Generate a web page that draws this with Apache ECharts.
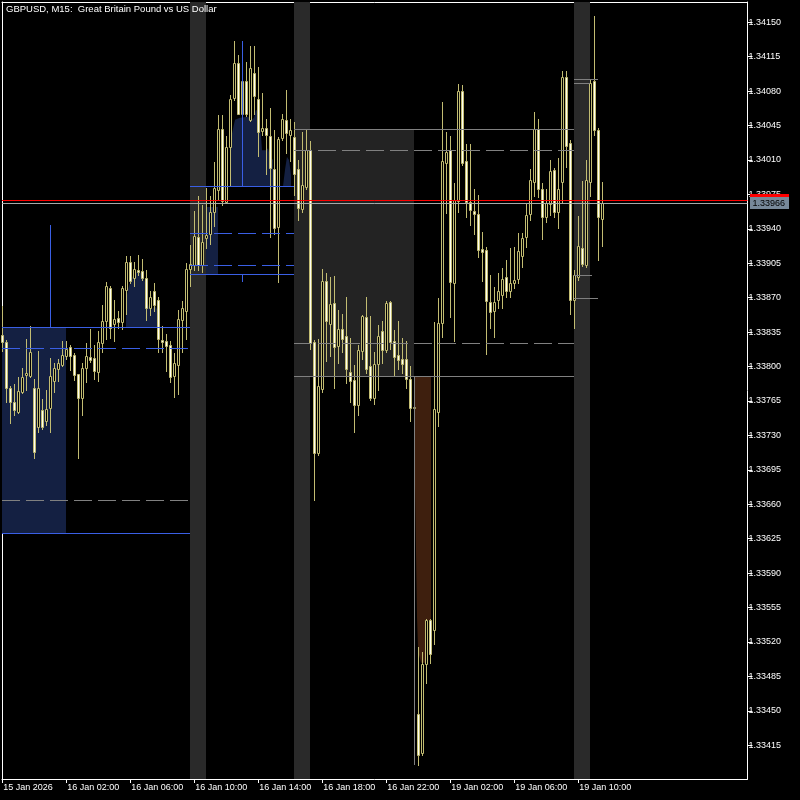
<!DOCTYPE html>
<html>
<head>
<meta charset="utf-8">
<script src="https://cdn.jsdelivr.net/npm/echarts@6/dist/echarts.min.js"></script>
<style>
html,body{margin:0;padding:0;background:#000;}
#chart{width:800px;height:800px;}
</style>
</head>
<body>
<div id="chart"></div>
<script>
// ---------------- data ----------------
const chartTitle = 'GBPUSD, M15:  Great Britain Pound vs US Dollar';
const timeLabelBars = [0, 16, 32, 48, 64, 80, 96, 112, 128, 144];
const timeLabels = ['15 Jan 2026', '16 Jan 02:00', '16 Jan 06:00', '16 Jan 10:00', '16 Jan 14:00',
  '16 Jan 18:00', '16 Jan 22:00', '19 Jan 02:00', '19 Jan 06:00', '19 Jan 10:00'];
const priceTicks = [1.33415, 1.33450, 1.33485, 1.33520, 1.33555, 1.33590, 1.33625, 1.33660, 1.33695,
  1.33730, 1.33765, 1.33800, 1.33835, 1.33870, 1.33905, 1.33940, 1.33975, 1.34010, 1.34045,
  1.34080, 1.34115, 1.34150];

const opens = [1.33832,1.33824,1.33778,1.33763,1.33753,1.33774,1.33791,1.33790,1.33778,1.33738,
1.33755,1.33744,1.33757,1.33785,1.33797,1.33801,1.33810,1.33819,1.33811,1.33792,
1.33768,1.33798,1.33809,1.33808,1.33794,1.33823,1.33846,1.33879,1.33843,1.33849,
1.33845,1.33877,1.33906,1.33890,1.33898,1.33897,1.33890,1.33859,1.33876,1.33867,
1.33827,1.33825,1.33821,1.33790,1.33801,1.33847,1.33856,1.33899,1.33903,1.33931,
1.33903,1.33930,1.33934,1.33957,1.33979,1.34041,1.33967,1.34023,1.34073,1.34108,
1.34056,1.34090,1.34050,1.34098,1.34072,1.34039,1.34042,1.34034,1.34000,1.33941,
1.34032,1.34050,1.34035,1.34033,1.34000,1.33960,1.33982,1.34020,1.33824,1.33712,
1.33777,1.33887,1.33843,1.33864,1.33820,1.33838,1.33831,1.33794,1.33786,1.33760,
1.33815,1.33850,1.33800,1.33768,1.33802,1.33836,1.33816,1.33865,1.33825,1.33811,
1.33807,1.33807,1.33787,1.33757,1.33446,1.33407,1.33497,1.33542,1.33532,1.33753,
1.33844,1.34006,1.34020,1.33884,1.33968,1.34080,1.34008,1.33967,1.33958,1.33955,
1.33919,1.33918,1.33865,1.33856,1.33867,1.33872,1.33891,1.33876,1.33884,1.33889,
1.33912,1.33931,1.33955,1.33987,1.34041,1.33980,1.33952,1.33965,1.33999,1.33957,
1.33987,1.34094,1.34027,1.33867,1.33891,1.33920,1.33903,1.33987,1.34090,1.34040,
1.33950];
const highs = [1.33861,1.33827,1.33780,1.33782,1.33789,1.33798,1.33828,1.33841,1.33787,1.33815,
1.33767,1.33776,1.33808,1.33803,1.33807,1.33825,1.33826,1.33821,1.33813,1.33792,
1.33803,1.33823,1.33838,1.33821,1.33836,1.33862,1.33885,1.33881,1.33867,1.33856,
1.33881,1.33912,1.33912,1.33906,1.33913,1.33909,1.33898,1.33876,1.33884,1.33870,
1.33841,1.33833,1.33826,1.33813,1.33857,1.33866,1.33905,1.33923,1.33958,1.33973,
1.33964,1.33981,1.33973,1.34007,1.34055,1.34055,1.34034,1.34076,1.34130,1.34116,
1.34109,1.34109,1.34125,1.34125,1.34104,1.34078,1.34051,1.34062,1.34040,1.34033,
1.34056,1.34081,1.34051,1.34048,1.34010,1.34038,1.34041,1.34029,1.33827,1.33828,
1.33899,1.33895,1.33891,1.33892,1.33857,1.33853,1.33870,1.33829,1.33801,1.33821,
1.33852,1.33870,1.33851,1.33814,1.33842,1.33846,1.33866,1.33866,1.33837,1.33846,
1.33829,1.33826,1.33800,1.33762,1.33514,1.33509,1.33543,1.33543,1.33845,1.33869,
1.34068,1.34038,1.34034,1.33986,1.34087,1.34086,1.34026,1.34026,1.33980,1.33974,
1.33936,1.33921,1.33893,1.33880,1.33895,1.33900,1.33908,1.33920,1.33921,1.33935,
1.33935,1.33965,1.34000,1.34058,1.34051,1.33986,1.33980,1.34009,1.34001,1.34012,
1.34100,1.34100,1.34030,1.33898,1.33953,1.33988,1.34010,1.34091,1.34156,1.34042,
1.33987];
const lows = [1.33815,1.33763,1.33742,1.33750,1.33752,1.33773,1.33776,1.33789,1.33707,1.33733,
1.33736,1.33740,1.33733,1.33774,1.33785,1.33800,1.33807,1.33796,1.33786,1.33707,
1.33750,1.33784,1.33804,1.33787,1.33785,1.33814,1.33828,1.33829,1.33825,1.33839,
1.33838,1.33853,1.33884,1.33881,1.33893,1.33888,1.33847,1.33852,1.33856,1.33814,
1.33814,1.33795,1.33784,1.33769,1.33772,1.33814,1.33828,1.33881,1.33898,1.33898,
1.33896,1.33920,1.33924,1.33942,1.33969,1.33964,1.33966,1.33983,1.34071,1.34056,
1.34049,1.34054,1.34049,1.34056,1.34014,1.34035,1.33995,1.33931,1.33934,1.33885,
1.34030,1.34017,1.34008,1.33974,1.33949,1.33957,1.33980,1.33817,1.33664,1.33710,
1.33774,1.33805,1.33810,1.33778,1.33803,1.33814,1.33783,1.33763,1.33733,1.33750,
1.33807,1.33793,1.33766,1.33761,1.33776,1.33803,1.33814,1.33817,1.33791,1.33797,
1.33793,1.33778,1.33744,1.33754,1.33394,1.33405,1.33478,1.33498,1.33517,1.33739,
1.33830,1.33956,1.33850,1.33825,1.33957,1.34004,1.33952,1.33943,1.33934,1.33911,
1.33886,1.33812,1.33839,1.33830,1.33859,1.33859,1.33870,1.33870,1.33879,1.33884,
1.33901,1.33921,1.33949,1.33973,1.33972,1.33929,1.33946,1.33954,1.33952,1.33940,
1.33967,1.34002,1.33853,1.33839,1.33888,1.33902,1.33901,1.33973,1.34035,1.33908,
1.33922];
const closes = [1.33824,1.33778,1.33763,1.33755,1.33775,1.33789,1.33793,1.33814,1.33713,1.33778,
1.33738,1.33756,1.33790,1.33798,1.33803,1.33811,1.33817,1.33810,1.33791,1.33768,
1.33798,1.33810,1.33806,1.33795,1.33824,1.33846,1.33881,1.33839,1.33848,1.33845,
1.33879,1.33906,1.33887,1.33899,1.33896,1.33890,1.33859,1.33870,1.33862,1.33828,
1.33824,1.33820,1.33789,1.33803,1.33848,1.33859,1.33899,1.33904,1.33932,1.33903,
1.33926,1.33933,1.33957,1.33981,1.34041,1.33968,1.34023,1.34072,1.34108,1.34056,
1.34090,1.34056,1.34103,1.34075,1.34038,1.34042,1.34035,1.34001,1.33940,1.34031,
1.34051,1.34037,1.34040,1.33995,1.33961,1.33984,1.34020,1.33823,1.33712,1.33780,
1.33887,1.33846,1.33863,1.33819,1.33838,1.33828,1.33797,1.33785,1.33760,1.33816,
1.33851,1.33797,1.33768,1.33802,1.33831,1.33816,1.33864,1.33824,1.33809,1.33806,
1.33802,1.33787,1.33757,1.33758,1.33405,1.33497,1.33542,1.33507,1.33756,1.33844,
1.34008,1.34018,1.33885,1.33969,1.34080,1.34006,1.33967,1.33959,1.33955,1.33918,
1.33916,1.33866,1.33855,1.33865,1.33876,1.33889,1.33876,1.33884,1.33888,1.33917,
1.33930,1.33954,1.33989,1.34041,1.33980,1.33952,1.33966,1.33998,1.33957,1.33980,
1.34094,1.34024,1.33867,1.33893,1.33922,1.33904,1.33989,1.34088,1.34040,1.33952,
1.33966];

const bidPrice = 1.33966;
const askPrice = 1.33969;

// session bands: [fromBar, toBar]
const sessionBands = [[47, 51], [73, 77], [143, 147]];
// zone boxes: [fromBar, toBar, lowPrice, highPrice, kind]
const zoneBoxes = [[-0.05, 16, 1.33630, 1.33840, 'navy'], [51, 54, 1.33893, 1.33962, 'navy'],
  [73, 103, 1.33790, 1.34041, 'gray']];
// level lines: [fromBar, toBar, price, kind, dashed]
const levelLines = [
  [-0.05, 47, 1.33840, 'blue', 0], [-0.05, 47, 1.33818, 'blue', 1], [-0.05, 47, 1.33664, 'gray', 1],
  [-0.05, 47, 1.33630, 'blue', 0],
  [47, 73, 1.33983, 'blue', 0], [47, 73, 1.33935, 'blue', 1], [47, 73, 1.33903, 'blue', 1],
  [47, 73, 1.33894, 'blue', 0],
  [73, 143, 1.34041, 'gray', 0], [73, 143, 1.34020, 'gray', 1], [73, 143, 1.33823, 'gray', 1],
  [73, 143, 1.33790, 'gray', 0],
  [143, 149, 1.34092, 'gray', 0], [143, 147, 1.34088, 'gray', 0], [143, 147.5, 1.33893, 'gray', 0],
  [143, 149, 1.33869, 'gray', 0]
];
// vertical lines: [bar, topPrice, bottomPrice, kind]
const verticalLines = [[12, 1.33943, 1.33840, 'blue'], [60, 1.34130, 1.33983, 'blue'],
  [60, 1.33893, 1.33886, 'blue'], [103, 1.33790, 1.33395, 'gray']];
// filled shapes as [bar, price] outlines
const navyHills = [
  [[30.95,1.33840],[30.95,1.33868],[31.45,1.33878],[31.95,1.33886],[32.7,1.33892],[33.45,1.33896],
   [34.45,1.33896],[35.2,1.33892],[35.7,1.33886],[36.07,1.33873],[36.2,1.33868],[36.7,1.33860],
   [37.45,1.33858],[38.2,1.33862],[38.7,1.33858],[38.7,1.33840]],
  [[56.95,1.33983],[57.2,1.34030],[57.45,1.34037],[58.2,1.34051],[59.45,1.34053],[61.45,1.34054],
   [62.45,1.34051],[62.95,1.34053],[63.45,1.34061],[63.95,1.34059],[64.2,1.34051],[64.7,1.34035],
   [64.95,1.34020],[65.95,1.34020],[66.45,1.34022],[66.95,1.34014],[67.7,1.34010],[67.7,1.33983]],
  [[70.2,1.33983],[70.7,1.34000],[71.2,1.34013],[71.7,1.34010],[72.2,1.33995],[72.2,1.33983]]
];
const gapFill = [[103.2,1.33790],[107.2,1.33790],[107.2,1.33542],[105.7,1.33542],[105.7,1.33499],
  [104.7,1.33499],[104.2,1.33507],[103.95,1.33514],[103.7,1.33546],[103.45,1.33612],[103.2,1.33680]];

// ---------------- style ----------------
const COL = {
  axis: '#FFFFFF', wick: '#C2BC72', bullFill: '#000000', bearFill: '#FFFFF4',
  band: '#2A2A2A', navy: '#142042', gray: '#232323', brown: '#3E1F0E',
  lineBlue: '#3A5FE5', lineGray: '#808080', bid: '#A8A8A8', ask: '#FF0000', tag: '#778899'
};
const FONT = 'Liberation Sans, Arial, sans-serif';
const X_MIN = -0.05, X_MAX = 186.325;
const Y_MIN = 1.33380738, Y_MAX = 1.34170637;

const chart = echarts.init(document.getElementById('chart'), null, {renderer: 'canvas'});

const candleData = opens.map((o, i) => [i, o, highs[i], lows[i], closes[i]]);
const fl = v => Math.floor(v);

function renderCandle(params, api) {
  const i = api.value(0), o = api.value(1), h = api.value(2), l = api.value(3), c = api.value(4);
  const pO = api.coord([i, o]), pC = api.coord([i, c]), pH = api.coord([i, h]), pL = api.coord([i, l]);
  const xc = fl(pO[0]) + 0.5;
  const yT = fl(Math.min(pO[1], pC[1])), yB = fl(Math.max(pO[1], pC[1]));
  const yH = fl(pH[1]), yL = fl(pL[1]);
  const bull = c > o;
  const children = [{
    type: 'line', shape: {x1: xc, y1: yH, x2: xc, y2: yL + 1},
    style: {stroke: COL.wick, lineWidth: 1}
  }];
  if (yB - yT >= 1) {
    children.push({
      type: 'rect', shape: {x: xc - 1, y: yT + 0.5, width: 2, height: yB - yT},
      style: {fill: bull ? COL.bullFill : COL.bearFill, stroke: COL.wick, lineWidth: 1}
    });
  } else {
    children.push({
      type: 'line', shape: {x1: xc - 1.5, y1: yT + 0.5, x2: xc + 1.5, y2: yT + 0.5},
      style: {stroke: COL.wick, lineWidth: 1}
    });
  }
  return {type: 'group', children};
}

function renderBand(params, api) {
  const d = sessionBands[params.dataIndex];
  const cs = params.coordSys;
  const x0 = fl(api.coord([d[0], Y_MAX])[0]), x1 = fl(api.coord([d[1], Y_MAX])[0]);
  return {type: 'rect', shape: {x: x0, y: cs.y, width: x1 - x0, height: cs.height},
    style: {fill: COL.band}};
}

function renderBox(params, api) {
  const d = zoneBoxes[params.dataIndex];
  const a = api.coord([d[0], d[3]]), b = api.coord([d[1], d[2]]);
  const x0 = fl(a[0]), x1 = fl(b[0]), y0 = fl(a[1]), y1 = fl(b[1]);
  return {type: 'rect', shape: {x: x0, y: y0, width: x1 - x0, height: y1 - y0},
    style: {fill: d[4] === 'navy' ? COL.navy : COL.gray}};
}

function renderPoly(points, color) {
  return function (params, api) {
    const pts = points[params.dataIndex].map(p => api.coord(p));
    return {type: 'polygon', shape: {points: pts}, style: {fill: color}};
  };
}

function renderLevel(params, api) {
  const d = levelLines[params.dataIndex];
  const a = api.coord([d[0], d[2]]), b = api.coord([d[1], d[2]]);
  const y = fl(a[1]) + 0.5;
  return {type: 'line', shape: {x1: fl(a[0]), y1: y, x2: fl(b[0]), y2: y},
    style: {stroke: d[3] === 'blue' ? COL.lineBlue : COL.lineGray, lineWidth: 1,
      lineDash: d[4] ? [18, 6] : null}};
}

function renderVLine(params, api) {
  const d = verticalLines[params.dataIndex];
  const a = api.coord([d[0], d[1]]), b = api.coord([d[0], d[2]]);
  const x = fl(a[0]) + 0.5;
  return {type: 'line', shape: {x1: x, y1: fl(a[1]), x2: x, y2: fl(b[1]) + 1},
    style: {stroke: d[3] === 'blue' ? COL.lineBlue : COL.lineGray, lineWidth: 1}};
}

const priceLines = [[askPrice, 'ask'], [bidPrice, 'bid']];
function renderPriceLine(params, api) {
  const d = priceLines[params.dataIndex];
  const cs = params.coordSys;
  const y = fl(api.coord([0, d[0]])[1]);
  const isBid = d[1] === 'bid';
  const right = cs.x + cs.width;
  return {type: 'group', children: [
    {type: 'line', shape: {x1: cs.x, y1: y + 0.5, x2: right, y2: y + 0.5},
      style: {stroke: isBid ? COL.bid : COL.ask, lineWidth: 1}},
    {type: 'rect', shape: {x: right + 2.5, y: y - 6, width: 39, height: 12},
      style: {fill: isBid ? COL.tag : COL.ask}},
    {type: 'text', x: right + 5, y: y + 0.5,
      style: {text: d[0].toFixed(5), fill: '#000000', font: '9px ' + FONT,
        verticalAlign: 'middle', align: 'left'}}
  ]};
}

const option = {
  backgroundColor: '#000000',
  animation: false,
  title: {
    text: chartTitle, left: 6, top: 4, padding: 0,
    textStyle: {color: '#FFFFFF', fontSize: 9.5, fontWeight: 'normal', fontFamily: FONT}
  },
  grid: {left: 2, top: 2, width: 745.5, height: 777, containLabel: false},
  xAxis: [{
    type: 'value', min: X_MIN, max: X_MAX, position: 'bottom',
    axisLine: {show: true, onZero: false, lineStyle: {color: COL.axis, width: 1}},
    axisTick: {show: true, customValues: timeLabelBars, length: 4, lineStyle: {color: COL.axis}},
    axisLabel: {show: true, customValues: timeLabelBars,
      formatter: v => timeLabels[timeLabelBars.indexOf(Math.round(v))] || '',
      color: '#FFFFFF', fontSize: 9, fontFamily: FONT, align: 'left', margin: 4, padding: [0, 0, 0, 1]},
    splitLine: {show: false}
  }, {
    type: 'value', min: X_MIN, max: X_MAX, position: 'top',
    axisLine: {show: true, onZero: false, lineStyle: {color: COL.axis, width: 1}},
    axisTick: {show: false}, axisLabel: {show: false}, splitLine: {show: false}
  }],
  yAxis: [{
    type: 'value', min: Y_MIN, max: Y_MAX, position: 'right',
    axisLine: {show: true, onZero: false, lineStyle: {color: COL.axis, width: 1}},
    axisTick: {show: true, customValues: priceTicks, length: 5, lineStyle: {color: COL.axis}},
    axisLabel: {show: true, customValues: priceTicks, formatter: v => v.toFixed(5),
      color: '#FFFFFF', fontSize: 9, fontFamily: FONT, margin: 1},
    splitLine: {show: false}
  }, {
    type: 'value', min: Y_MIN, max: Y_MAX, position: 'left',
    axisLine: {show: true, onZero: false, lineStyle: {color: COL.axis, width: 1}},
    axisTick: {show: false}, axisLabel: {show: false}, splitLine: {show: false}
  }],
  series: [
    {type: 'custom', name: 'bands', z: 1, silent: true, renderItem: renderBand,
      data: sessionBands.map(d => [d[0], Y_MAX]), encode: {x: 0, y: 1}},
    {type: 'custom', name: 'boxes', z: 1, silent: true, renderItem: renderBox,
      data: zoneBoxes.map(d => [d[0], d[2]]), encode: {x: 0, y: 1}},
    {type: 'custom', name: 'hills', z: 2, silent: true, renderItem: renderPoly(navyHills, COL.navy),
      data: navyHills.map(p => p[0]), encode: {x: 0, y: 1}},
    {type: 'custom', name: 'gap', z: 2, silent: true, renderItem: renderPoly([gapFill], COL.brown),
      data: [gapFill[0]], encode: {x: 0, y: 1}},
    {type: 'custom', name: 'candles', z: 3, silent: true, renderItem: renderCandle,
      data: candleData, encode: {x: 0, y: [1, 2, 3, 4]}},
    {type: 'custom', name: 'levels', z: 4, silent: true, renderItem: renderLevel,
      data: levelLines.map(d => [d[0], d[2]]), encode: {x: 0, y: 1}},
    {type: 'custom', name: 'vlines', z: 4, silent: true, renderItem: renderVLine,
      data: verticalLines.map(d => [d[0], d[1]]), encode: {x: 0, y: 1}},
    {type: 'custom', name: 'price', z: 5, silent: true, renderItem: renderPriceLine,
      data: priceLines.map(d => [0, d[0]]), encode: {x: 0, y: 1}}
  ]
};
chart.setOption(option);
</script>
</body>
</html>
